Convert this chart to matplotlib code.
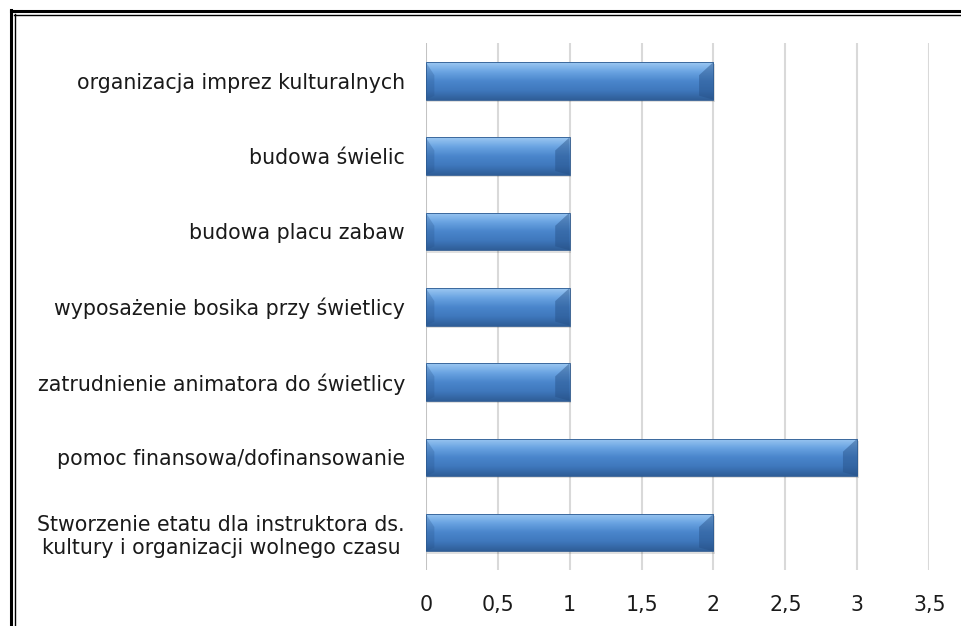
import matplotlib
matplotlib.use("Agg")
import matplotlib.pyplot as plt
import numpy as np
from matplotlib.colors import LinearSegmentedColormap
from matplotlib.lines import Line2D
from matplotlib.patches import Rectangle, Polygon

categories = [
    "organizacja imprez kulturalnych",
    "budowa świelic",
    "budowa placu zabaw",
    "wyposażenie bosika przy świetlicy",
    "zatrudnienie animatora do świetlicy",
    "pomoc finansowa/dofinansowanie",
    "Stworzenie etatu dla instruktora ds.\nkultury i organizacji wolnego czasu",
]
values = [2, 1, 1, 1, 1, 3, 2]
xticks = [0, 0.5, 1, 1.5, 2, 2.5, 3, 3.5]
xtick_labels = ["0", "0,5", "1", "1,5", "2", "2,5", "3", "3,5"]

plt.rcParams["font.family"] = ["DejaVu Sans"]

fig = plt.figure(figsize=(9.61, 6.26), dpi=100)
ax = fig.add_axes([0.443, 0.089, 0.524, 0.842])

# vertical gradient used for the "cylinder" look of the bars
grad = LinearSegmentedColormap.from_list(
    "bar", ["#9cc8f2", "#6aa4e2", "#4a86cc", "#3f78bd", "#2f5e98"]
)
g = np.linspace(0, 1, 64).reshape(-1, 1)

h = 0.5
ys = np.arange(len(categories))
for y, v in zip(ys, values):
    # soft shadow
    ax.add_patch(Rectangle((0.01, y - h / 2 + 0.03), v, h, facecolor="#000000",
                           alpha=0.12, edgecolor="none", zorder=2))
    rect = Rectangle((0, y - h / 2), v, h, facecolor="none", edgecolor="#2d5a90",
                     linewidth=0.6, zorder=4)
    ax.add_patch(rect)
    im = ax.imshow(g, cmap=grad, aspect="auto", extent=(0, v, y + h / 2, y - h / 2),
                   zorder=3, interpolation="bicubic")
    im.set_clip_path(rect)
    # bevelled ends
    b = 0.1
    dy = h * 0.35
    ax.add_patch(Polygon([(v, y - h / 2), (v - b, y - h / 2 + dy), (v - b, y + h / 2 - dy * 0.3),
                          (v, y + h / 2)], closed=True, facecolor="#254f85", alpha=0.45,
                         edgecolor="none", zorder=3.5))
    ax.add_patch(Polygon([(0, y - h / 2), (b * 0.6, y - h / 2 + dy), (b * 0.6, y + h / 2 - dy * 0.3),
                          (0, y + h / 2)], closed=True, facecolor="#254f85", alpha=0.25,
                         edgecolor="none", zorder=3.5))

ax.set_xlim(0, 3.5)
ax.set_ylim(len(categories) - 0.5, -0.5)
ax.set_yticks(ys)
ax.set_yticklabels(categories, fontsize=14.8, color="#1a1a1a", linespacing=1.2,
                   multialignment="center")
ax.set_xticks(xticks)
ax.set_xticklabels(xtick_labels, fontsize=14.8, color="#1a1a1a")
ax.tick_params(axis="y", length=0, pad=15)
ax.tick_params(axis="x", length=0, pad=18)
ax.grid(axis="x", color="#d9d9d9", linewidth=1.5, zorder=0)
ax.set_axisbelow(True)
for s in ax.spines.values():
    s.set_visible(False)
ax.axvline(0, color="#bfbfbf", linewidth=1.2, zorder=1)

# double frame on the top and left edge
fig.add_artist(Line2D([10.5 / 961, 1], [1 - 11 / 626, 1 - 11 / 626], color="black", linewidth=2.2))
fig.add_artist(Line2D([14 / 961, 1], [1 - 14.5 / 626, 1 - 14.5 / 626], color="black", linewidth=1.0))
fig.add_artist(Line2D([11 / 961, 11 / 961], [0, 1 - 10 / 626], color="black", linewidth=2.2))
fig.add_artist(Line2D([14.5 / 961, 14.5 / 961], [0, 1 - 14 / 626], color="black", linewidth=1.0))

fig.savefig("out.png", dpi=100)
